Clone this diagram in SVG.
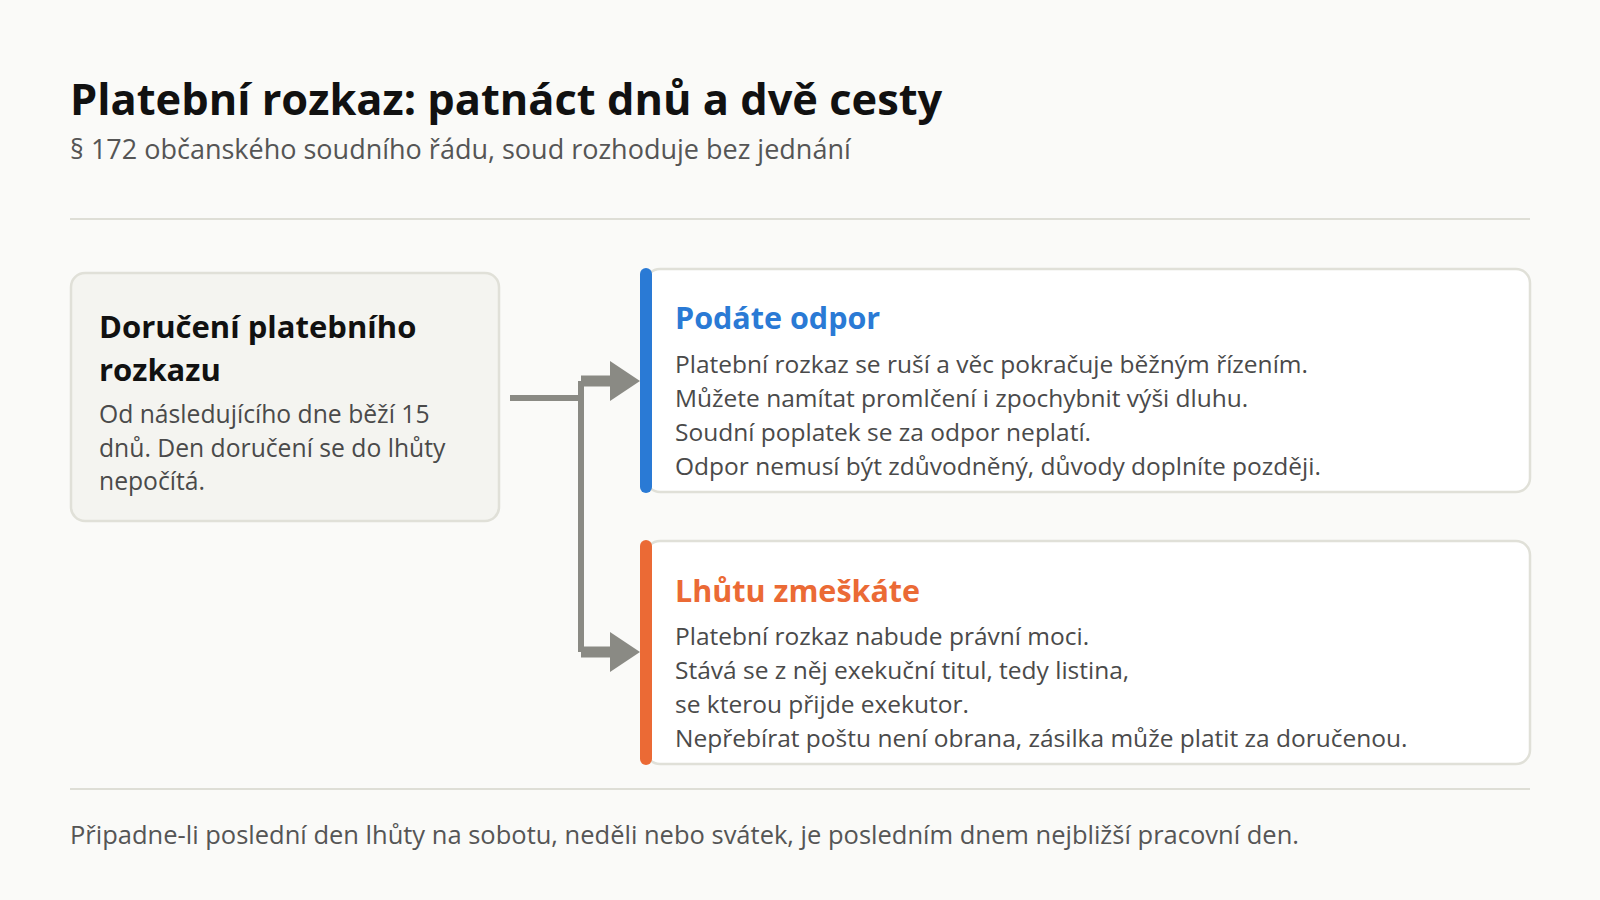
<svg xmlns="http://www.w3.org/2000/svg" width="1600" height="900" viewBox="0 0 1600 900">
<style>
text{font-family:"Open Sans","Noto Sans","Liberation Sans",sans-serif}
.title{font-size:43.4px;font-weight:700;fill:#111}
.sub{font-size:27px;fill:#555}
.foot{font-size:25.5px;fill:#555}
.body{font-size:24.5px;fill:#4a4a4a}
.lbody{font-size:24.7px;fill:#4a4a4a}
.lhead{font-size:31px;font-weight:700;fill:#111}
.head{font-size:30.5px;font-weight:700}
.card{fill:#fff;stroke:#e0e0d8;stroke-width:2.5}
.rule{stroke:#deded6;stroke-width:2}
.conn{fill:none;stroke:#8a8a84;stroke-linejoin:round}
</style>
<defs>
<marker id="ah" markerUnits="userSpaceOnUse" markerWidth="32" markerHeight="40" refX="2" refY="20" orient="auto">
<path d="M0,0 L30,20 L0,40 Z" fill="#8a8a84"/>
</marker>
</defs>
<rect width="1600" height="900" fill="#fafaf8"/>
<g id="header">
<text class="title" x="70" y="115">Platební rozkaz: patnáct dnů a dvě cesty</text>
<text class="sub" x="70" y="159">§ 172 občanského soudního řádu, soud rozhoduje bez jednání</text>
<line class="rule" x1="70" y1="219" x2="1530" y2="219"/>
</g>
<g id="connectors">
<path class="conn" stroke-width="6" d="M510,398 H581 V652"/>
<path class="conn" stroke-width="6" d="M581,398 V381"/>
<path class="conn" stroke-width="11" d="M581,381 H612" marker-end="url(#ah)"/>
<path class="conn" stroke-width="11" d="M581,652 H612" marker-end="url(#ah)"/>
</g>
<g id="node-doruceni">
<rect x="71" y="273" width="428" height="248" rx="14" fill="#f4f4f0" stroke="#e0e0d8" stroke-width="2.5"/>
<text class="lhead" x="99" y="338">Doručení platebního</text>
<text class="lhead" x="99" y="381">rozkazu</text>
<text class="lbody" x="99" y="423">Od následujícího dne běží 15</text>
<text class="lbody" x="99" y="457">dnů. Den doručení se do lhůty</text>
<text class="lbody" x="99" y="490">nepočítá.</text>
</g>
<g id="node-odpor">
<rect class="card" x="646" y="269" width="884" height="223" rx="14"/>
<rect x="640" y="268" width="12" height="225" rx="6" fill="#2a7ad5"/>
<text class="head" x="675" y="329" fill="#2a7ad5">Podáte odpor</text>
<text class="body" x="675" y="373">Platební rozkaz se ruší a věc pokračuje běžným řízením.</text>
<text class="body" x="675" y="407">Můžete namítat promlčení i zpochybnit výši dluhu.</text>
<text class="body" x="675" y="441">Soudní poplatek se za odpor neplatí.</text>
<text class="body" x="675" y="475">Odpor nemusí být zdůvodněný, důvody doplníte později.</text>
</g>
<g id="node-zmeskate">
<rect class="card" x="646" y="541" width="884" height="223" rx="14"/>
<rect x="640" y="540" width="12" height="225" rx="6" fill="#eb6a35"/>
<text class="head" x="675" y="602" fill="#eb6a35">Lhůtu zmeškáte</text>
<text class="body" x="675" y="645">Platební rozkaz nabude právní moci.</text>
<text class="body" x="675" y="679">Stává se z něj exekuční titul, tedy listina,</text>
<text class="body" x="675" y="713">se kterou přijde exekutor.</text>
<text class="body" x="675" y="747">Nepřebírat poštu není obrana, zásilka může platit za doručenou.</text>
</g>
<g id="footer">
<line class="rule" x1="70" y1="789" x2="1530" y2="789"/>
<text class="foot" x="70" y="844">Připadne-li poslední den lhůty na sobotu, neděli nebo svátek, je posledním dnem nejbližší pracovní den.</text>
</g>
</svg>
